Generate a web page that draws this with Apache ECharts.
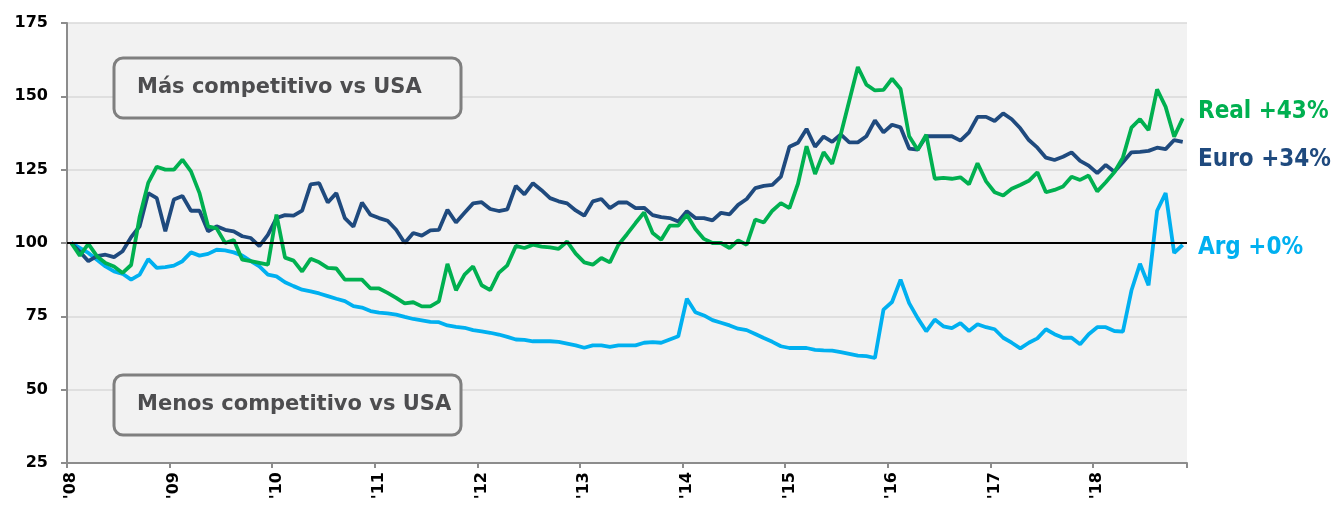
<!DOCTYPE html>
<html>
<head>
<meta charset="utf-8">
<script src="https://cdn.jsdelivr.net/npm/echarts@6/dist/echarts.min.js"></script>
<style>
    html, body {margin: 0; padding: 0; background: #fff;}
    #chart {width: 1334px; height: 509px;}
</style>
</head>
<body>
<div id="chart"></div>
<script>
// indice de tipo de cambio real, base ene-08 = 100, mensual ene-08 .. nov-18
var years = ['08','09','10','11','12','13','14','15','16','17','18'];
var months = ['01','02','03','04','05','06','07','08','09','10','11','12'];
var yTicks = [25, 50, 75, 100, 125, 150, 175];

var real = [100,95.7,99.7,95.5,93.2,92,89.8,92.5,109,120.5,126,125,
    125,128.4,124.4,117,105.7,105,100,101,94.3,93.8,93.2,92.6,
    109.7,95,94,90.3,94.6,93.4,91.5,91.3,87.5,87.5,87.5,84.5,
    84.5,83,81.3,79.4,79.8,78.4,78.4,80.1,92.9,83.9,89.2,92,
    85.6,83.9,89.8,92.4,99,98.3,99.4,98.8,98.5,98,100.5,96.4,
    93.4,92.6,94.9,93.4,99.4,103,106.8,110.4,103.4,101.1,105.9,105.9,
    109.6,104.8,101.4,100,100,98.3,100.9,99.4,108,107,111,113.6,
    111.9,120.2,133,123.5,131,127,137,148.5,160,154,152,152.2,
    156,152.5,136.4,131.8,136.9,121.9,122.2,121.9,122.4,120,127.2,121,
    117.3,116.2,118.5,119.8,121.2,124.1,117.3,118.1,119.3,122.6,121.5,123,
    117.6,120.7,124.1,129.1,139.3,142.2,138.5,152.4,146.4,136.2,142.5];

var euro = [100,97,93.8,95.5,96,95.2,97.2,102,105.7,117,115.3,104,
    114.8,116,111,111,104,105.7,104.5,104,102.3,101.7,98.9,102.8,
    108.5,109.5,109.3,111,120,120.4,113.8,117,108.5,105.6,113.8,109.6,
    108.5,107.6,104.5,100,103.4,102.5,104.3,104.5,111.3,107,110.3,113.5,
    113.9,111.6,110.9,111.5,119.5,116.6,120.4,118,115.3,114.2,113.5,111.1,
    109.3,114.2,115,111.9,113.8,113.8,111.9,112,109.5,108.8,108.5,107.3,
    110.8,108.5,108.5,107.7,110.3,109.8,113,115,118.7,119.5,119.8,122.6,
    132.8,134.2,138.9,132.8,136.3,134.5,137,134.3,134.3,136.4,141.8,137.7,
    140.3,139.4,132.2,131.8,136.4,136.4,136.4,136.4,134.9,137.7,143,143,
    141.6,144.2,142.2,139.1,135.1,132.5,129.1,128.3,129.4,130.9,128,126.4,
    123.8,126.6,124.3,127.5,130.9,131.1,131.4,132.5,132,135.1,134.5];

var arg = [100,98.3,96.6,94.3,92,90.3,89.5,87.5,89.2,94.5,91.5,91.8,
    92.3,93.8,96.8,95.7,96.3,97.7,97.5,96.8,95.7,93.8,92,89.2,
    88.6,86.6,85.3,84.1,83.5,82.8,81.9,81,80.2,78.5,78,76.8,
    76.3,76,75.6,74.8,74.1,73.6,73.1,73,71.9,71.4,71.1,70.3,
    69.9,69.4,68.8,68,67.1,67,66.5,66.5,66.5,66.3,65.7,65.1,
    64.3,65.1,65.1,64.6,65.1,65.1,65.1,66,66.2,66,67.1,68.2,
    81,76.4,75.3,73.7,72.8,71.9,70.8,70.3,69,67.6,66.3,64.8,
    64.2,64.2,64.2,63.6,63.4,63.3,62.8,62.2,61.6,61.4,60.8,77.3,
    79.9,87.5,79.5,74.4,69.9,73.9,71.6,71,72.7,70,72.3,71.3,
    70.6,67.7,66,64.1,66,67.5,70.6,68.9,67.7,67.7,65.5,68.9,
    71.3,71.3,70,69.8,83.8,92.9,85.6,111,117,96.6,99.4];

var endLabels = ['Real +43%', 'Euro +34%', 'Arg +0%'];
var boxTexts = ['Más competitivo vs USA', 'Menos competitivo vs USA'];

var categories = [];
for (var y = 0; y < years.length; y++) {
    for (var m = 0; m < months.length; m++) {
        categories.push(years[y] + '-' + months[m]);
    }
}
categories = categories.slice(0, real.length);

var colReal = '#00b050', colEuro = '#1f4a7e', colArg = '#00b0f0';
var axisGray = '#8c8c8c';
var boldFont = 'DejaVu Sans';
var narrowFont = '"DejaVu Sans Condensed", "Liberation Sans Narrow", sans-serif';

function yearTick(index) {
    return index % 12 === 0;
}

var chart = echarts.init(document.getElementById('chart'));
var option = {
    animation: false,
    backgroundColor: '#fff',
    grid: {
        left: 67, top: 23, width: 1120, height: 440,
        show: true, backgroundColor: '#f2f2f2', borderWidth: 0
    },
    xAxis: {
        type: 'category',
        data: categories,
        boundaryGap: true,
        axisLine: {lineStyle: {color: axisGray, width: 2}},
        axisTick: {show: true, interval: yearTick, length: 5, lineStyle: {color: axisGray, width: 2}},
        axisLabel: {
            interval: yearTick,
            rotate: 90,
            margin: 9,
            color: '#000',
            fontFamily: boldFont,
            fontWeight: 'bold',
            fontSize: 16,
            formatter: function (v) { return "'" + v.split('-')[0]; }
        },
        splitLine: {show: false}
    },
    yAxis: {
        type: 'value',
        min: yTicks[0],
        max: yTicks[yTicks.length - 1],
        interval: 25,
        axisLine: {show: true, lineStyle: {color: axisGray, width: 2}},
        axisTick: {show: true, length: 6, lineStyle: {color: axisGray, width: 2}},
        axisLabel: {
            color: '#000', fontFamily: boldFont, fontWeight: 'bold', fontSize: 16, margin: 19
        },
        splitLine: {lineStyle: {color: '#d9d9d9', width: 1.5}}
    },
    series: [
        {
            name: 'Arg', type: 'line', data: arg, symbol: 'none',
            lineStyle: {color: colArg, width: 3.8}, itemStyle: {color: colArg},
            markLine: {
                silent: true, symbol: ['none', 'none'],
                label: {show: false},
                lineStyle: {color: '#000', width: 2, type: 'solid'},
                data: [{yAxis: 100}]
            }
        },
        {
            name: 'Euro', type: 'line', data: euro, symbol: 'none',
            lineStyle: {color: colEuro, width: 3.8}, itemStyle: {color: colEuro}
        },
        {
            name: 'Real', type: 'line', data: real, symbol: 'none',
            lineStyle: {color: colReal, width: 3.8}, itemStyle: {color: colReal}
        }
    ],
    graphic: [
        {
            type: 'rect', shape: {x: 114, y: 58, width: 347, height: 60, r: 9},
            style: {fill: '#f2f2f2', stroke: '#7f7f7f', lineWidth: 3}, z: 10
        },
        {
            type: 'text', x: 137, y: 88, z: 11,
            style: {text: boxTexts[0], fill: '#4d4d4f', font: 'bold 21px "DejaVu Sans"', verticalAlign: 'middle'}
        },
        {
            type: 'rect', shape: {x: 114, y: 375, width: 347, height: 60, r: 9},
            style: {fill: '#f2f2f2', stroke: '#7f7f7f', lineWidth: 3}, z: 10
        },
        {
            type: 'text', x: 137, y: 405, z: 11,
            style: {text: boxTexts[1], fill: '#4d4d4f', font: 'bold 21px "DejaVu Sans"', verticalAlign: 'middle'}
        },
        {
            type: 'text', x: 1198, y: 112,
            style: {text: endLabels[0], fill: colReal, font: 'bold 24px ' + narrowFont, verticalAlign: 'middle'}
        },
        {
            type: 'text', x: 1198, y: 160,
            style: {text: endLabels[1], fill: colEuro, font: 'bold 24px ' + narrowFont, verticalAlign: 'middle'}
        },
        {
            type: 'text', x: 1198, y: 248,
            style: {text: endLabels[2], fill: colArg, font: 'bold 24px ' + narrowFont, verticalAlign: 'middle'}
        }
    ]
};
chart.setOption(option);
</script>
</body>
</html>
